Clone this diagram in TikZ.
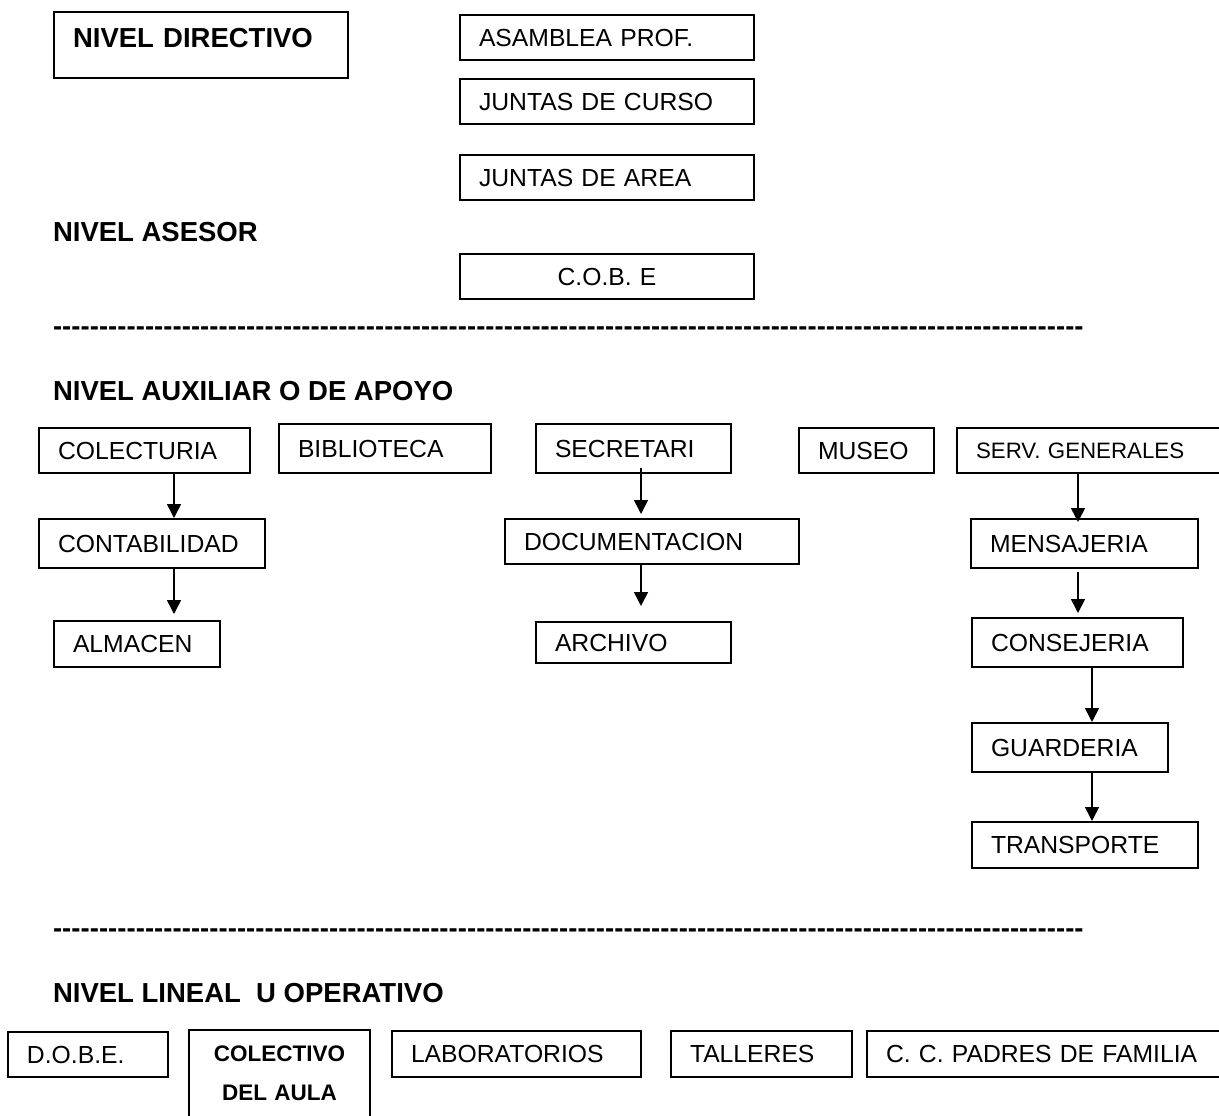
\documentclass[tikz,border=0pt]{standalone}
\usepackage{fontspec}
\setmainfont{Liberation Sans}
\usetikzlibrary{arrows.meta}
\newcommand\regf{\fontsize{24.7}{29.6}\selectfont}
\newcommand\smf{\fontsize{22.3}{26.8}\selectfont}
\newcommand\hdf{\fontsize{27.5}{33}\selectfont\bfseries}
\newcommand\colf{\fontsize{22.5}{39}\selectfont\bfseries}
\newcommand\dashrow{\foreach\i in {1,...,112}{-\kern0.045pt}}
\newcommand\obox[7][align=left]{%
  \pgfmathsetmacro\bw{#5-#3}%
  \pgfmathsetmacro\bh{#6-#4}%
  \pgfmathsetmacro\tw{#5-#3-38}%
  \node[obx, text width=\tw pt, minimum width=\bw pt, minimum height=\bh pt, #1] (#2) at (#3,#4) {#7};}
\tikzset{
  obx/.style={draw, line width=1.6pt, rectangle, anchor=north west, inner xsep=19pt, inner ysep=1pt, outer sep=0pt, font=\regf},
  head/.style={font=\hdf, anchor=base west, inner sep=0pt, outer sep=0pt},
  arr/.style={line width=1.6pt, -{Triangle[length=14pt,width=14pt]}}
}
\begin{document}
\begin{tikzpicture}[x=1pt,y=-1pt]
\useasboundingbox (0,0) rectangle (1219,1116);
\clip (0,0) rectangle (1219,1116);
\fill[white] (0,0) rectangle (1219,1116);

% NIVEL DIRECTIVO
\node[obx, font=\hdf, text width=256pt, minimum width=294pt, inner ysep=16pt, text depth=15pt, align=left] (dir) at (54,12) {NIVEL DIRECTIVO};
\obox{asam}{460}{15}{754}{60}{ASAMBLEA PROF.}
\obox{jcur}{460}{79}{754}{124}{JUNTAS DE CURSO}
\obox{jare}{460}{155}{754}{200}{JUNTAS DE AREA}

% NIVEL ASESOR
\node[head] (hase) at (53,241) {NIVEL ASESOR};
\obox[align=center]{cobe}{460}{254}{754}{299}{C.O.B. E}

\node[head] (dsh1) at (53,335) {\dashrow};

% NIVEL AUXILIAR
\node[head] (haux) at (53,400) {NIVEL AUXILIAR O DE APOYO};
\obox{colect}{39}{428}{250}{473}{COLECTURIA}
\obox{bibl}{279}{424}{491}{473}{BIBLIOTECA}
\obox{secr}{536}{424}{731}{473}{SECRETARI}
\obox{muse}{799}{428}{934}{473}{MUSEO}
\obox[align=left,font=\smf]{serv}{957}{428}{1240}{473}{SERV. GENERALES}
\obox{contab}{39}{519}{265}{568}{CONTABILIDAD}
\obox{docu}{505}{519}{799}{564}{DOCUMENTACION}
\obox{mens}{971}{519}{1198}{568}{MENSAJERIA}
\obox{alma}{54}{621}{220}{667}{ALMACEN}
\obox{arch}{536}{622}{731}{663}{ARCHIVO}
\obox{cons}{972}{618}{1183}{667}{CONSEJERIA}
\obox{guar}{972}{723}{1168}{772}{GUARDERIA}
\obox{tran}{972}{822}{1198}{868}{TRANSPORTE}

\coordinate (xa) at (174,0);
\coordinate (xb) at (641,0);
\coordinate (xc) at (1078,0);
\coordinate (xd) at (1092,0);
\draw[arr, shorten >=1pt] (colect.south -| xa) -- (contab.north -| xa);
\draw[arr, shorten >=7pt] (contab.south -| xa) -- (alma.north -| xa);
\draw[arr, shorten <=-5pt, shorten >=5pt] (secr.south -| xb) -- (docu.north -| xb);
\draw[arr, shorten >=16pt] (docu.south -| xb) -- (arch.north -| xb);
\draw[arr, shorten >=-3pt] (serv.south -| xc) -- (mens.north -| xc);
\draw[arr, shorten <=4pt, shorten >=5pt] (mens.south -| xc) -- (cons.north -| xc);
\draw[arr, shorten >=1pt] (cons.south -| xd) -- (guar.north -| xd);
\draw[arr, shorten >=1pt] (guar.south -| xd) -- (tran.north -| xd);

\node[head] (dsh2) at (53,937) {\dashrow};

% NIVEL LINEAL
\node[head] (hlin) at (53,1002) {NIVEL LINEAL~~U OPERATIVO};
\obox{dobe}{8}{1032}{168}{1077}{D.O.B.E.}
\node[obx, draw=none, font=\colf, align=center, text width=143pt, minimum width=181pt, minimum height=86pt] (colec) at (189,1030) {COLECTIVO\\DEL AULA};
\draw[line width=1.6pt] (colec.south west) -- (colec.north west) -- (colec.north east) -- (colec.south east);
\obox{labo}{392}{1031}{641}{1077}{LABORATORIOS}
\obox{tall}{671}{1031}{852}{1077}{TALLERES}
\obox{padr}{867}{1031}{1240}{1077}{C. C. PADRES DE FAMILIA}
\end{tikzpicture}
\end{document}
